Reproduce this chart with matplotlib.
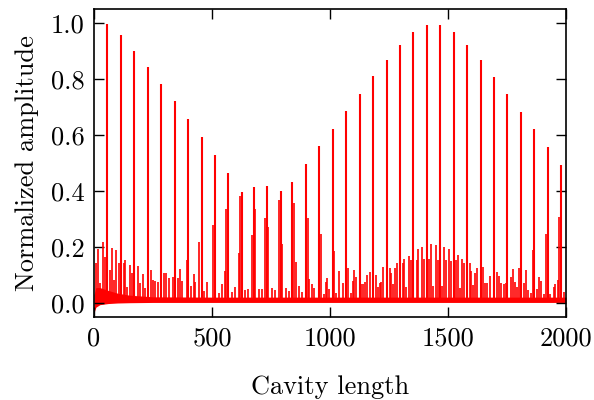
import numpy as np
import matplotlib
matplotlib.use("Agg")
import matplotlib.pyplot as plt

# ---- data ----
main_x = [56, 114, 170, 229, 283, 342, 397, 456, 511, 568, 626, 677, 732, 791, 840,
          897, 955, 1013, 1068, 1126, 1182, 1240, 1297, 1353, 1410, 1466, 1524, 1581,
          1638, 1695, 1752, 1808, 1866, 1922, 1980]
main_h = [0.996, 0.957, 0.900, 0.842, 0.782, 0.721, 0.657, 0.594, 0.527, 0.463, 0.398,
          0.413, 0.418, 0.399, 0.432, 0.495, 0.560, 0.621, 0.686, 0.746, 0.810, 0.868,
          0.921, 0.967, 0.993, 0.993, 0.967, 0.921, 0.867, 0.806, 0.745, 0.681, 0.620,
          0.556, 0.492]

side_x = [8, 18, 27, 38, 45, 66, 76, 86, 94, 105, 126, 133, 141, 151, 161, 185, 196, 209,
          217, 240, 250, 260, 270, 298, 306, 319, 333, 355, 366, 373, 392, 411, 422, 429,
          447, 467, 480, 503, 528, 541, 554, 561, 585, 596, 613, 618, 639, 652, 669, 684,
          698, 712, 723, 739, 754, 767, 783, 798, 812, 825, 847, 855, 867, 881, 905, 912,
          925, 932, 962, 973, 983, 989, 997, 1019, 1025, 1039, 1054, 1075, 1090, 1097,
          1103, 1111, 1133, 1140, 1150, 1155, 1168, 1195, 1202, 1211, 1217, 1225, 1253,
          1260, 1268, 1277, 1285, 1308, 1315, 1322, 1333, 1342, 1367, 1372, 1390, 1397,
          1421, 1428, 1435, 1449, 1456, 1475, 1484, 1491, 1504, 1513, 1535, 1542, 1550,
          1561, 1566, 1593, 1599, 1607, 1616, 1623, 1650, 1655, 1666, 1680, 1706, 1716,
          1725, 1739, 1746, 1766, 1774, 1783, 1794, 1802, 1821, 1830, 1839, 1850, 1859,
          1878, 1887, 1893, 1907, 1915, 1933, 1948, 1955, 1965, 1972, 1986, 1993]
side_h = [0.144, 0.192, 0.070, 0.219, 0.165, 0.118, 0.195, 0.082, 0.189, 0.142, 0.142,
          0.154, 0.058, 0.136, 0.108, 0.132, 0.070, 0.104, 0.053, 0.118, 0.082, 0.080,
          0.076, 0.106, 0.106, 0.088, 0.094, 0.088, 0.121, 0.079, 0.154, 0.062, 0.104,
          0.074, 0.219, 0.043, 0.075, 0.279, 0.035, 0.068, 0.115, 0.336, 0.040, 0.058,
          0.177, 0.382, 0.046, 0.050, 0.243, 0.335, 0.049, 0.050, 0.302, 0.270, 0.052,
          0.046, 0.369, 0.210, 0.054, 0.043, 0.357, 0.145, 0.060, 0.039, 0.304, 0.086,
          0.068, 0.054, 0.246, 0.032, 0.074, 0.089, 0.050, 0.186, 0.035, 0.114, 0.070,
          0.124, 0.035, 0.080, 0.118, 0.092, 0.067, 0.068, 0.075, 0.099, 0.112, 0.099,
          0.058, 0.073, 0.076, 0.130, 0.126, 0.108, 0.067, 0.126, 0.142, 0.142, 0.157,
          0.058, 0.168, 0.154, 0.154, 0.192, 0.200, 0.157, 0.157, 0.210, 0.061, 0.207,
          0.154, 0.061, 0.200, 0.154, 0.193, 0.150, 0.154, 0.171, 0.052, 0.156, 0.142,
          0.142, 0.114, 0.064, 0.108, 0.124, 0.130, 0.073, 0.070, 0.096, 0.112, 0.096,
          0.073, 0.067, 0.070, 0.094, 0.121, 0.076, 0.058, 0.125, 0.073, 0.118, 0.046,
          0.037, 0.190, 0.051, 0.092, 0.080, 0.032, 0.246, 0.031, 0.056, 0.068, 0.082,
          0.306, 0.017, 0.040]

# baseline noise band (lower / upper envelope)
band_x = [0, 8, 25, 60, 100, 150, 250, 500, 1000, 1500, 2000]
band_lo = [-0.035, -0.015, -0.006, -0.002, 0.000, 0.001, 0.002, 0.002, 0.002, 0.002, 0.002]
band_hi = [0.030, 0.055, 0.055, 0.045, 0.035, 0.028, 0.022, 0.021, 0.021, 0.021, 0.021]

x_ticks = [0, 500, 1000, 1500, 2000]
y_ticks = [0.0, 0.2, 0.4, 0.6, 0.8, 1.0]

# ---- style ----
plt.rcParams['font.family'] = 'serif'
plt.rcParams['font.serif'] = ['cmr10']
plt.rcParams['mathtext.fontset'] = 'cm'
plt.rcParams['axes.formatter.use_mathtext'] = True

fig = plt.figure(figsize=(5.94, 4.0), dpi=100)
ax = fig.add_axes([94/594, 1-317/400, 472/594, 308/400])

red = '#ff0000'
ax.fill_between(band_x, band_lo, band_hi, color=red, lw=0)
ax.vlines(side_x, 0.005, side_h, color=red, lw=1.2)
ax.vlines(main_x, 0.005, main_h, color=red, lw=1.5)

ax.set_xlim(0, 2000)
ax.set_ylim(-0.05, 1.05)
ax.set_xticks(x_ticks)
ax.set_yticks(y_ticks)
ax.set_xticklabels([str(v) for v in x_ticks])
ax.set_yticklabels(['%.1f' % v for v in y_ticks])
ax.minorticks_off()
ax.tick_params(direction='in', length=7, width=1.0, top=True, right=True,
               labelsize=19, pad=7)
for s in ax.spines.values():
    s.set_linewidth(1.2)

ax.set_xlabel('Cavity length', fontsize=19, labelpad=18)
ax.set_ylabel('Normalized amplitude', fontsize=19, labelpad=8)

fig.savefig('out.png', dpi=100)
